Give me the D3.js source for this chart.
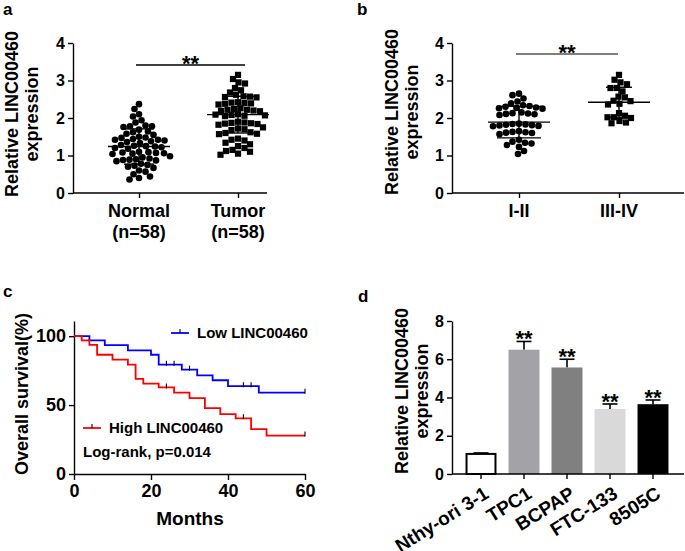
<!DOCTYPE html>
<html>
<head>
<meta charset="utf-8">
<title>LINC00460 expression in thyroid cancer</title>
<style>
body { margin: 0; background: #fff; }
svg text { font-family: Arial, "Liberation Sans", sans-serif; font-weight: bold; fill: #000; }
</style>
</head>
<body>
<div id="container"></div>
<script src="https://cdn.jsdelivr.net/npm/d3@7"></script>
<script>
// ---- data ----
// a: tissue expression
const tissueGroups = ["Normal", "Tumor"];
const tissueCounts = ["(n=58)", "(n=58)"];
const normalValues = [2.37, 2.24, 2.10, 2.04, 1.94, 1.88, 1.80, 1.78, 1.78, 1.76,
  1.69, 1.64, 1.62, 1.58, 1.55, 1.50, 1.48, 1.47, 1.44, 1.42,
  1.42, 1.40, 1.38, 1.36, 1.33, 1.28, 1.26, 1.25, 1.24, 1.22,
  1.20, 1.18, 1.10, 1.09, 1.08, 1.07, 1.06, 1.05, 1.04, 0.98,
  0.95, 0.92, 0.90, 0.89, 0.88, 0.87, 0.85, 0.78, 0.75, 0.73,
  0.70, 0.67, 0.60, 0.57, 0.50, 0.44, 0.40, 0.36];
const tumorValues = [3.15, 3.04, 2.95, 2.92, 2.80, 2.74, 2.68, 2.62, 2.58, 2.57,
  2.56, 2.55, 2.42, 2.41, 2.40, 2.39, 2.38, 2.36, 2.26, 2.24,
  2.22, 2.22, 2.20, 2.19, 2.18, 2.10, 2.09, 2.08, 2.07, 2.06,
  2.05, 1.90, 1.88, 1.87, 1.86, 1.85, 1.84, 1.82, 1.75, 1.72,
  1.70, 1.68, 1.62, 1.60, 1.58, 1.57, 1.45, 1.42, 1.40, 1.34,
  1.30, 1.25, 1.20, 1.15, 1.12, 1.10, 1.05, 1.02];
const tissueMeans = [1.24, 2.09];
const tissueSDs = [0.47, 0.49];

// b: expression by TNM stage
const stageGroups = ["I-II", "III-IV"];
const earlyValues = [2.65, 2.61, 2.52, 2.44, 2.39, 2.34, 2.32, 2.30, 2.28, 2.27,
  2.26, 2.25, 2.15, 2.13, 2.12, 2.11, 2.10, 2.08, 1.85, 1.84,
  1.83, 1.82, 1.81, 1.80, 1.79, 1.78, 1.65, 1.63, 1.62, 1.61,
  1.60, 1.57, 1.42, 1.37, 1.34, 1.32, 1.28, 1.23, 1.12, 1.04];
const lateValues = [3.15, 3.02, 2.95, 2.90, 2.80, 2.80, 2.71, 2.57, 2.55, 2.46,
  2.45, 2.38, 2.36, 2.13, 2.06, 2.02, 2.02, 2.00, 1.92, 1.88, 1.86];
const stageMeans = [1.89, 2.42];
const stageSDs = [0.42, 0.40];

// c: Kaplan-Meier survival (months, % surviving)
const lowMonths = [0, 4, 8, 14, 20, 22, 28, 32, 36, 40, 48, 60];
const lowSurvival = [100, 96.9, 93.5, 89.7, 86.5, 79.3, 75.7, 71.6, 68, 63.7, 59, 59];
const lowCensored = [24, 26, 30, 44, 46, 60];
const highMonths = [0, 2, 4, 6, 10, 14, 16, 18, 22, 26, 30, 34, 38, 42, 46, 50, 60];
const highSurvival = [100, 96.9, 93.7, 86.5, 83, 79.3, 69, 65.6, 62.8, 59, 55, 47.8, 43.5, 40.4, 32.5, 27.9, 27.9];
const highCensored = [24, 44, 60];

// d: cell lines
const cellLines = ["Nthy-ori 3-1", "TPC1", "BCPAP", "FTC-133", "8505C"];
const cellMeans = [1.05, 6.5, 5.57, 3.4, 3.65];
const cellErrors = [0.05, 0.43, 0.43, 0.26, 0.22];
const cellStars = ["", "**", "**", "**", "**"];

// ---- chart ----
const width = 685, height = 551;
const svg = d3.create("svg").attr("width", width).attr("height", height);

function styleAxis(g, size) {
  g.attr("font-family", null).attr("font-size", size);
  g.select(".domain").attr("stroke", "#000").attr("stroke-width", 1.4);
  g.selectAll(".tick line").attr("stroke", "#000").attr("stroke-width", 1.4);
  g.selectAll(".tick text").attr("fill", "#000");
}

function yTitle(lines, x, y) {
  const t = svg.append("text")
    .attr("transform", `translate(${x},${y}) rotate(-90)`)
    .attr("text-anchor", "middle")
    .attr("font-size", 18);
  lines.forEach((l, i) => t.append("tspan").attr("x", 0).attr("y", i * 20).text(l));
}

function panelLetter(s, x, y) {
  svg.append("text").attr("x", x).attr("y", y).attr("font-size", 17).text(s);
}

// simple beeswarm: push points sideways until they stop overlapping
function swarm(values, y, cx, r) {
  const placed = [];
  const order = d3.range(values.length).sort((a, b) => d3.descending(values[a], values[b]));
  order.forEach((i, n) => {
    const py = y(values[i]);
    const dir = n % 2 ? -1 : 1;
    for (let k = 0; ; k++) {
      const px = [cx + dir * k * 0.5, cx - dir * k * 0.5]
        .find(px => placed.every(p => (p.x - px) ** 2 + (p.y - py) ** 2 >= (2 * r) ** 2));
      if (px !== undefined) { placed.push({x: px, y: py}); break; }
    }
  });
  return placed;
}

function meanSD(g, cx, mean, sd, y, half, cap) {
  g.append("line").attr("x1", cx - half).attr("x2", cx + half).attr("y1", y(mean)).attr("y2", y(mean));
  g.append("line").attr("x1", cx).attr("x2", cx).attr("y1", y(mean - sd)).attr("y2", y(mean + sd));
  for (const v of [mean - sd, mean + sd])
    g.append("line").attr("x1", cx - cap).attr("x2", cx + cap).attr("y1", y(v)).attr("y2", y(v));
}

function scatterPanel(opt) {
  const y = d3.scaleLinear().domain([0, 4]).range([193, 43]);
  const x = d3.scalePoint().domain(opt.groups).range(opt.centers);

  svg.append("g")
    .attr("transform", `translate(${opt.left},0)`)
    .call(d3.axisLeft(y).ticks(4).tickSize(5).tickSizeOuter(0).tickPadding(3))
    .call(g => styleAxis(g, 16));

  const xa = svg.append("g")
    .attr("transform", `translate(0,${y(0)})`)
    .call(d3.axisBottom(x).tickSize(5).tickSizeOuter(0).tickFormat(""))
    .call(g => styleAxis(g, 18));
  xa.select(".domain").remove();
  xa.append("line").attr("x1", opt.left).attr("x2", opt.right).attr("stroke", "#000").attr("stroke-width", 1.4);

  opt.groups.forEach((name, i) => {
    const t = svg.append("text").attr("text-anchor", "middle").attr("font-size", 18);
    t.append("tspan").attr("x", x(name)).attr("y", 217).text(name);
    if (opt.counts) t.append("tspan").attr("x", x(name)).attr("y", 238).text(opt.counts[i]);
  });

  const dots = svg.append("g").attr("fill", "#000");
  const circles = swarm(opt.values[0], y, x(opt.groups[0]), 3.2);
  dots.selectAll("circle").data(circles).join("circle")
    .attr("cx", d => d.x).attr("cy", d => d.y).attr("r", 3.3);
  const squares = swarm(opt.values[1], y, x(opt.groups[1]), 3.2);
  dots.selectAll("rect").data(squares).join("rect")
    .attr("x", d => d.x - 3.1).attr("y", d => d.y - 3.1).attr("width", 6.2).attr("height", 6.2);

  const lines = svg.append("g").attr("stroke", "#000").attr("stroke-width", 1.4);
  opt.groups.forEach((name, i) => meanSD(lines, x(name), opt.means[i], opt.sds[i], y, 31, opt.caps[i]));

  svg.append("line").attr("x1", opt.sig[0]).attr("x2", opt.sig[1])
    .attr("y1", opt.sigY).attr("y2", opt.sigY)
    .attr("stroke", opt.sigColor).attr("stroke-width", 1.4);
  svg.append("text").attr("x", (opt.sig[0] + opt.sig[1]) / 2).attr("y", opt.sigY + 6)
    .attr("text-anchor", "middle").attr("font-size", 22).text("**");
}

// a
panelLetter("a", 3, 15);
yTitle(["Relative LINC00460", "expression"], 18, 114);
scatterPanel({
  groups: tissueGroups, counts: tissueCounts, centers: [139, 238], left: 73, right: 267,
  values: [normalValues, tumorValues], means: tissueMeans, sds: tissueSDs, caps: [15, 16],
  sig: [136, 245], sigY: 65, sigColor: "#000"
});

// b
panelLetter("b", 357, 15);
yTitle(["Relative LINC00460", "expression"], 398, 112);
scatterPanel({
  groups: stageGroups, centers: [519, 619], left: 452, right: 684,
  values: [earlyValues, lateValues], means: stageMeans, sds: stageSDs, caps: [22, 13],
  sig: [516, 618], sigY: 54, sigColor: "#555"
});

// c
panelLetter("c", 3, 297);
yTitle(["Overall survival(%)"], 28, 394);
{
  const x = d3.scaleLinear().domain([0, 60]).range([74, 305]);
  const y = d3.scaleLinear().domain([0, 111]).range([474, 321]);
  svg.append("g").attr("transform", "translate(74,0)")
    .call(d3.axisLeft(y).tickValues([0, 50, 100]).tickSize(5).tickSizeOuter(0).tickPadding(3))
    .call(g => styleAxis(g, 18));
  svg.append("g").attr("transform", "translate(0,474)")
    .call(d3.axisBottom(x).tickValues([0, 20, 40, 60]).tickSize(6).tickSizeOuter(0).tickPadding(4))
    .call(g => styleAxis(g, 18));
  svg.append("text").attr("x", 190).attr("y", 525).attr("text-anchor", "middle").attr("font-size", 19).text("Months");

  const step = d3.line().curve(d3.curveStepAfter).x(d => x(d[0])).y(d => y(d[1]));
  const survAt = (months, surv, t) => surv[d3.bisectRight(months, t) - 1];
  const curves = [
    {months: lowMonths, surv: lowSurvival, cens: lowCensored, color: "#0000ff"},
    {months: highMonths, surv: highSurvival, cens: highCensored, color: "#ff0000"}
  ];
  for (const c of curves) {
    svg.append("path").attr("fill", "none").attr("stroke", c.color).attr("stroke-width", 1.8)
      .attr("d", step(d3.zip(c.months, c.surv)));
    svg.append("g").attr("stroke", "#000").attr("stroke-width", 1.1)
      .selectAll("line").data(c.cens).join("line")
      .attr("x1", t => x(t)).attr("x2", t => x(t))
      .attr("y1", t => y(survAt(c.months, c.surv, t)) - 4)
      .attr("y2", t => y(survAt(c.months, c.surv, t)) + 1);
  }
  // legend
  const legend = [
    {label: "Low LINC00460", color: "#0000ff", x: 171, y: 333},
    {label: "High LINC00460", color: "#ff0000", x: 83, y: 428}
  ];
  for (const l of legend) {
    svg.append("line").attr("x1", l.x).attr("x2", l.x + 18).attr("y1", l.y).attr("y2", l.y)
      .attr("stroke", l.color).attr("stroke-width", 1.8);
    svg.append("line").attr("x1", l.x + 9).attr("x2", l.x + 9).attr("y1", l.y - 4).attr("y2", l.y)
      .attr("stroke", "#000").attr("stroke-width", 1.1);
    svg.append("text").attr("x", l.x + 26).attr("y", l.y + 5).attr("font-size", 15).text(l.label);
  }
  svg.append("text").attr("x", 83).attr("y", 457).attr("font-size", 15).text("Log-rank, p=0.014");
}

// d
panelLetter("d", 358, 302);
yTitle(["Relative LINC00460", "expression"], 408, 391);
{
  const x = d3.scaleBand().domain(cellLines).range([459.5, 674.5]).paddingInner(0.28).paddingOuter(0.14);
  const y = d3.scaleLinear().domain([0, 8]).range([474, 321]);
  const fill = d3.scaleOrdinal().domain(cellLines).range(["#ffffff", "#a2a2a7", "#808080", "#d9d9d9", "#000000"]);

  svg.append("g").attr("transform", "translate(452,0)")
    .call(d3.axisLeft(y).ticks(4).tickSize(5).tickSizeOuter(0).tickPadding(3))
    .call(g => styleAxis(g, 16));

  // error bars drawn first so the bar covers the lower half
  const err = svg.append("g").attr("stroke", "#000").attr("stroke-width", 1.6);
  cellLines.forEach((c, i) => {
    const cx = x(c) + x.bandwidth() / 2;
    err.append("line").attr("x1", cx).attr("x2", cx).attr("y1", y(cellMeans[i])).attr("y2", y(cellMeans[i] + cellErrors[i]));
    err.append("line").attr("x1", cx - 7.5).attr("x2", cx + 7.5)
      .attr("y1", y(cellMeans[i] + cellErrors[i])).attr("y2", y(cellMeans[i] + cellErrors[i]));
  });

  svg.append("g").selectAll("rect").data(cellLines).join("rect")
    .attr("x", (c, i) => x(c) + (i === 0 ? 1 : 0))
    .attr("y", (c, i) => y(cellMeans[i]))
    .attr("width", (c, i) => x.bandwidth() - (i === 0 ? 2 : 0))
    .attr("height", (c, i) => y(0) - y(cellMeans[i]))
    .attr("fill", c => fill(c))
    .attr("stroke", (c, i) => i === 0 ? "#000" : "none")
    .attr("stroke-width", 2);

  svg.append("g").selectAll("text").data(cellLines).join("text")
    .attr("x", c => x(c) + x.bandwidth() / 2)
    .attr("y", (c, i) => y(cellMeans[i] + cellErrors[i]) + 5)
    .attr("text-anchor", "middle").attr("font-size", 22)
    .text((c, i) => cellStars[i]);

  const xa = svg.append("g").attr("transform", `translate(0,${y(0)})`)
    .call(d3.axisBottom(x).tickSize(5).tickSizeOuter(0).tickFormat(""))
    .call(g => styleAxis(g, 18));
  xa.select(".domain").remove();
  xa.append("line").attr("x1", 452).attr("x2", 684).attr("stroke", "#000").attr("stroke-width", 1.4);

  svg.append("g").selectAll("text").data(cellLines).join("text")
    .attr("transform", c => `translate(${x(c) + x.bandwidth() / 2 + 9},497) rotate(-32)`)
    .attr("text-anchor", "end").attr("font-size", 19)
    .text(c => c);
}

container.append(svg.node());
</script>
</body>
</html>
